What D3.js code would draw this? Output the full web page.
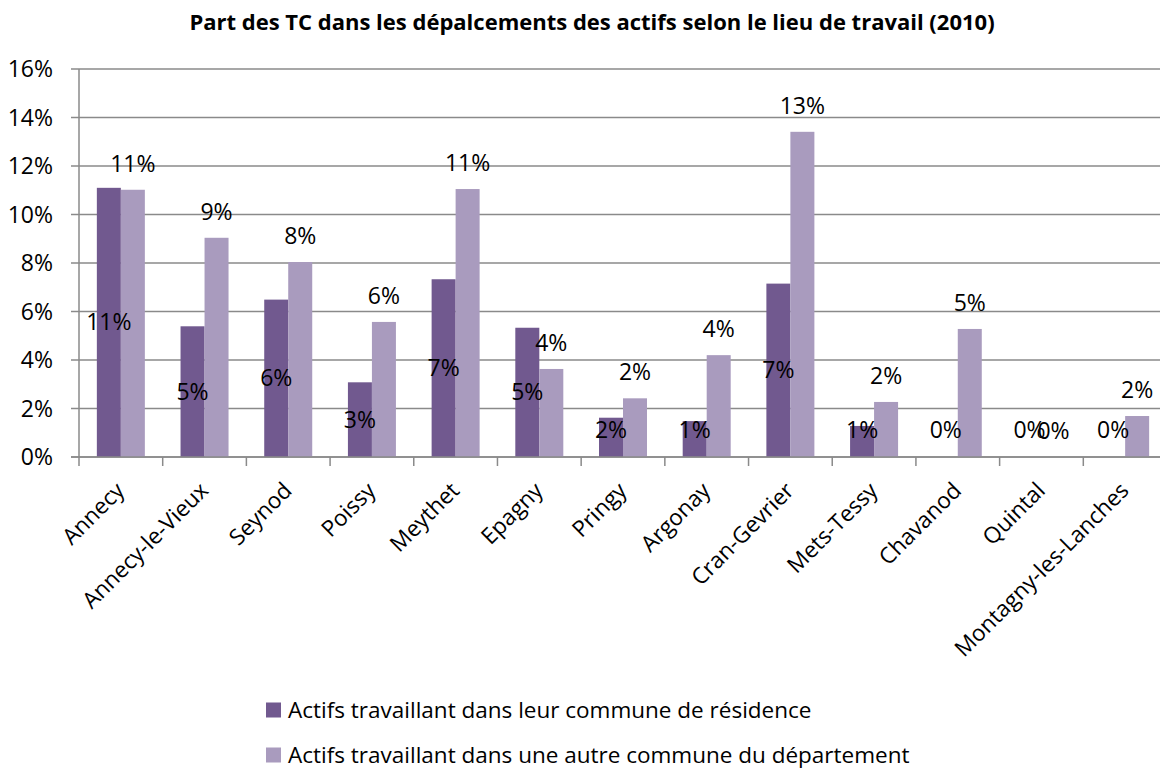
<!DOCTYPE html>
<html>
<head>
<meta charset="utf-8">
<script src="https://cdn.jsdelivr.net/npm/d3@7"></script>
<style>
  body { margin: 0; background: #fff; }
  svg { display: block; font-family: "Open Sans", Lato, sans-serif; }
</style>
</head>
<body>
<div id="chart"></div>
<script>
const width = 1160;
const height = 772;

// Data (values in %)
const communes = ["Annecy", "Annecy-le-Vieux", "Seynod", "Poissy", "Meythet", "Epagny", "Pringy",
    "Argonay", "Cran-Gevrier", "Mets-Tessy", "Chavanod", "Quintal", "Montagny-les-Lanches"];
const residence = [11.1, 5.39, 6.49, 3.08, 7.33, 5.33, 1.62, 1.48, 7.15, 1.28, 0, 0, 0];
const autre = [11.02, 9.04, 8.04, 5.57, 11.05, 3.63, 2.42, 4.2, 13.41, 2.27, 5.28, 0, 1.69];
const seriesNames = ["Actifs travaillant dans leur commune de résidence",
    "Actifs travaillant dans une autre commune du département"];
const colors = ["#71598f", "#a99bbe"];
const yTicks = [0, 2, 4, 6, 8, 10, 12, 14, 16];

const margin = { top: 69, left: 79, bottom: 457, right: 1167 };
const fontSize = "22.5px";

const svg = d3.select("#chart").append("svg")
    .attr("width", width)
    .attr("height", height);

svg.append("text")
    .attr("x", 592)
    .attr("y", 30)
    .attr("text-anchor", "middle")
    .style("font-weight", "bold")
    .style("font-size", "22px")
    .text("Part des TC dans les dépalcements des actifs selon le lieu de travail (2010)");

const x = d3.scaleBand()
    .domain(communes)
    .range([margin.left, margin.right]);

const y = d3.scaleLinear()
    .domain([0, 16])
    .range([margin.bottom, margin.top]);

const barW = 24;

// gridlines
svg.append("g")
    .selectAll("line")
    .data(yTicks)
    .join("line")
    .attr("x1", margin.left - 8)
    .attr("x2", margin.right)
    .attr("y1", d => y(d))
    .attr("y2", d => y(d))
    .attr("stroke", "#8a8a8a")
    .attr("stroke-width", 1.5);

// y labels
svg.append("g")
    .selectAll("text")
    .data(yTicks)
    .join("text")
    .attr("x", 53)
    .attr("y", d => y(d))
    .attr("dy", "0.35em")
    .attr("text-anchor", "end")
    .style("font-size", "23px")
    .text(d => d + "%");

// y axis line
svg.append("line")
    .attr("x1", margin.left).attr("x2", margin.left)
    .attr("y1", margin.top).attr("y2", margin.bottom)
    .attr("stroke", "#8a8a8a").attr("stroke-width", 1.5);

// x tick marks
svg.append("g")
    .selectAll("line")
    .data(communes.concat([null]))
    .join("line")
    .attr("x1", (d, i) => margin.left + i * x.bandwidth())
    .attr("x2", (d, i) => margin.left + i * x.bandwidth())
    .attr("y1", margin.bottom)
    .attr("y2", margin.bottom + 9)
    .attr("stroke", "#8a8a8a").attr("stroke-width", 1.5);

const series = [residence, autre];

series.forEach((vals, s) => {
    svg.append("g")
        .selectAll("rect")
        .data(vals)
        .join("rect")
        .attr("x", (d, i) => x(communes[i]) + x.bandwidth() / 2 - barW + s * barW)
        .attr("y", d => y(d))
        .attr("width", barW)
        .attr("height", d => y(0) - y(d))
        .attr("fill", colors[s]);
});

// x axis line on top of bars
svg.append("line")
    .attr("x1", margin.left - 8).attr("x2", margin.right)
    .attr("y1", margin.bottom).attr("y2", margin.bottom)
    .attr("stroke", "#8a8a8a").attr("stroke-width", 1.5);

const fmt = d => d3.format(".0%")(d / 100);

// labels: first series centred in bar, second above bar
svg.append("g")
    .selectAll("text")
    .data(residence)
    .join("text")
    .attr("x", (d, i) => x(communes[i]) + x.bandwidth() / 2 - barW / 2)
    .attr("y", d => Math.min((y(d) + y(0)) / 2, y(0) - 27))
    .attr("dy", "0.35em")
    .attr("text-anchor", "middle")
    .style("font-size", "23px")
    .text(fmt);

svg.append("g")
    .selectAll("text")
    .data(autre)
    .join("text")
    .attr("x", (d, i) => x(communes[i]) + x.bandwidth() / 2 + barW / 2)
    .attr("y", d => y(d) - 26)
    .attr("dy", "0.35em")
    .attr("text-anchor", "middle")
    .style("font-size", "23px")
    .text(fmt);

// category labels
svg.append("g")
    .selectAll("text")
    .data(communes)
    .join("text")
    .attr("transform", d => `translate(${x(d) + x.bandwidth() / 2 + 5},${margin.bottom + 35}) rotate(-45)`)
    .attr("text-anchor", "end")
    .style("font-size", fontSize)
    .text(d => d);

// legend
const legend = svg.append("g")
    .selectAll("g")
    .data(seriesNames)
    .join("g")
    .attr("transform", (d, i) => `translate(266,${710 + i * 45})`);

legend.append("rect")
    .attr("x", 0).attr("y", -7.5)
    .attr("width", 15).attr("height", 15)
    .attr("fill", (d, i) => colors[i]);

legend.append("text")
    .attr("x", 22)
    .attr("dy", "0.35em")
    .style("font-size", fontSize)
    .text(d => d);
</script>
</body>
</html>
